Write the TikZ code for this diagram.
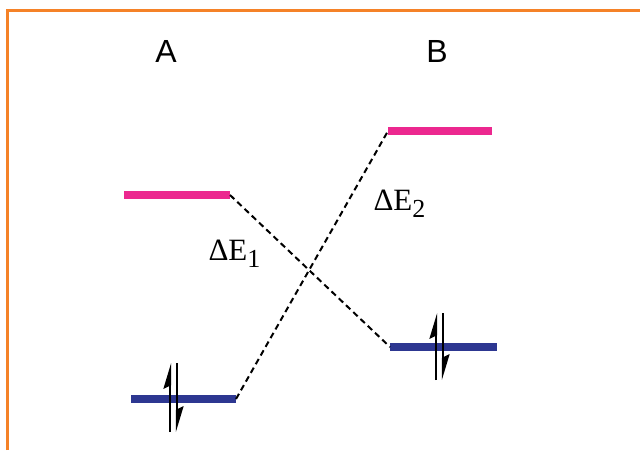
\documentclass[tikz,border=0pt]{standalone}
\usepackage{fontspec}
\setmainfont{Liberation Serif}
\newfontfamily\labelfont{Liberation Sans}
\usetikzlibrary{arrows.meta}
\definecolor{LevelPink}{RGB}{236,40,143}
\definecolor{LevelBlue}{RGB}{45,55,145}
\definecolor{FrameOrange}{RGB}{245,130,40}

\begin{document}
\begin{tikzpicture}[x=1pt,y=-1pt,
        lvlup/.style={LevelPink,line width=7.5pt},
        lvllow/.style={LevelBlue,line width=7.5pt},
        corr/.style={dash pattern=on 6pt off 4pt,line width=2pt},
        spin/.style={line width=2.2pt,
                     -{Stealth[harpoon,length=22pt,width=13pt,inset=3pt]}},
        sidelbl/.style={font=\labelfont\fontsize{32}{32}\selectfont,anchor=base},
        gaplbl/.style={font=\fontsize{31}{31}\selectfont,anchor=base west}
      ]
        \useasboundingbox (0,0) rectangle (640,450);
        % frame
        \draw[FrameOrange,line width=3pt] (7,450) -- (7,10) -- (640,10);
        % side labels
        \node[sidelbl] (labA) at (166,62) {A};
        \node[sidelbl] (labB) at (437,62) {B};
        % level end points
        \coordinate (A1w) at (124,195); \coordinate (A1e) at (230,195);
        \coordinate (A0w) at (131,399); \coordinate (A0e) at (236,399);
        \coordinate (B1w) at (388,131); \coordinate (B1e) at (492,131);
        \coordinate (B0w) at (390,347); \coordinate (B0e) at (497,347);
        \draw[lvlup] (A1w) -- (A1e);
        \draw[lvllow] (A0w) -- (A0e);
        \draw[lvlup] (B1w) -- (B1e);
        \draw[lvllow] (B0w) -- (B0e);
        % correlation lines
        \draw[corr] (A1e) -- (B0w);
        \draw[corr] (A0e) -- (B1w);
        % electron pairs
        \draw[spin] (170,432) -- (170,363);
        \draw[spin] (177,363) -- (177,432);
        \draw[spin] (436,380) -- (436,313);
        \draw[spin] (443,313) -- (443,380);
        % gaps
        \node[gaplbl] (dE1) at (205,260)
          {ΔE\raisebox{-7pt}{\fontsize{26}{26}\selectfont 1}};
        \node[gaplbl] (dE2) at (370,210)
          {ΔE\raisebox{-7pt}{\fontsize{26}{26}\selectfont 2}};
      \end{tikzpicture}
\end{document}
